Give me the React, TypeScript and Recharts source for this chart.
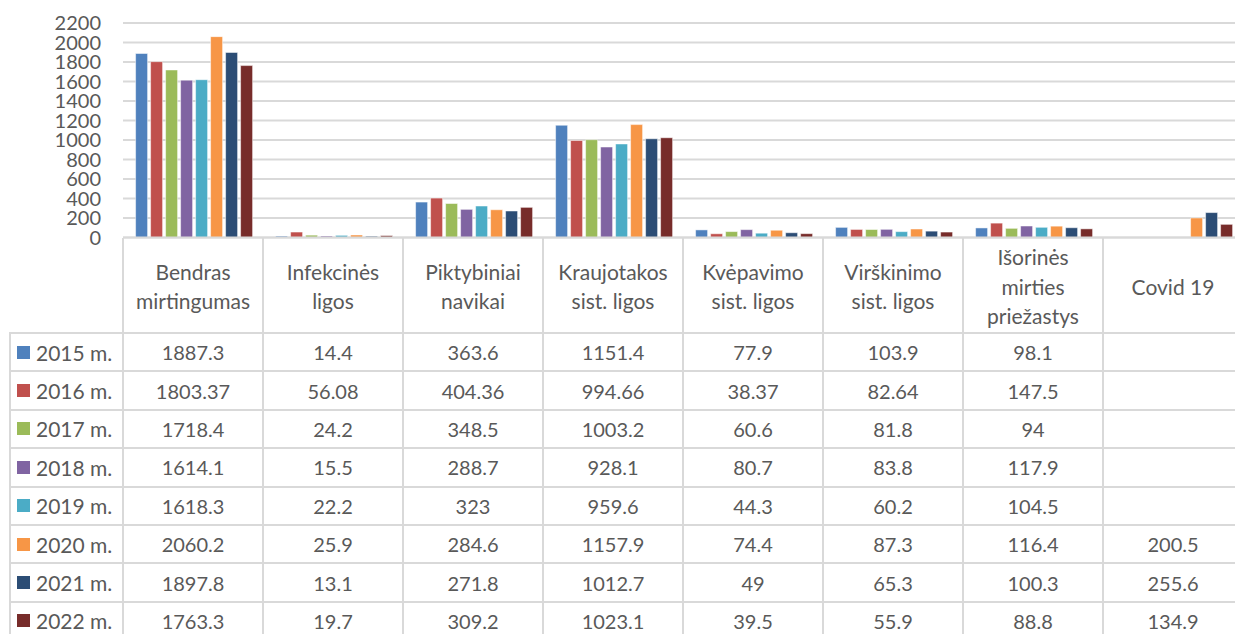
import { Bar, BarChart, CartesianGrid, XAxis, YAxis } from "recharts";

const categories = [
  "Bendras\nmirtingumas",
  "Infekcinės\nligos",
  "Piktybiniai\nnavikai",
  "Kraujotakos\nsist. ligos",
  "Kvėpavimo\nsist. ligos",
  "Virškinimo\nsist. ligos",
  "Išorinės\nmirties\npriežastys",
  "Covid 19",
];

const years = ["2015 m.", "2016 m.", "2017 m.", "2018 m.", "2019 m.", "2020 m.", "2021 m.", "2022 m."];
const colors = ["#4f81bd", "#c0504d", "#9bbb59", "#8064a2", "#4bacc6", "#f79646", "#2c4d75", "#772c2a"];

const v2015 = [1887.3, 14.4, 363.6, 1151.4, 77.9, 103.9, 98.1, null];
const v2016 = [1803.37, 56.08, 404.36, 994.66, 38.37, 82.64, 147.5, null];
const v2017 = [1718.4, 24.2, 348.5, 1003.2, 60.6, 81.8, 94, null];
const v2018 = [1614.1, 15.5, 288.7, 928.1, 80.7, 83.8, 117.9, null];
const v2019 = [1618.3, 22.2, 323, 959.6, 44.3, 60.2, 104.5, null];
const v2020 = [2060.2, 25.9, 284.6, 1157.9, 74.4, 87.3, 116.4, 200.5];
const v2021 = [1897.8, 13.1, 271.8, 1012.7, 49, 65.3, 100.3, 255.6];
const v2022 = [1763.3, 19.7, 309.2, 1023.1, 39.5, 55.9, 88.8, 134.9];

const series = [v2015, v2016, v2017, v2018, v2019, v2020, v2021, v2022];
const yTicks = [0, 200, 400, 600, 800, 1000, 1200, 1400, 1600, 1800, 2000, 2200];

const data = categories.map((name, i) => {
  const row: Record<string, string | number | null> = { name };
  series.forEach((s, k) => (row["s" + k] = s[i]));
  return row;
});

const TEXT = "#595959";
const LINE = "#d9d9d9";
const PLOT_LEFT = 123;
const COL_W = 140;
const HEAD_TOP = 238;
const TABLE_TOP = 333;
const ROW_H = 38.4;

// category names sit in the table's header row
function CategoryTick(props: any) {
  const { x, payload } = props;
  const lines = String(payload.value).split("\n");
  const lh = 29.5;
  const cy = (HEAD_TOP + TABLE_TOP) / 2;
  const first = cy - ((lines.length - 1) * lh) / 2;
  return (
    <text x={x} textAnchor="middle" fill={TEXT} fontSize={21} dominantBaseline="central">
      {lines.map((l, i) => (
        <tspan key={i} x={x} y={first + i * lh}>
          {l}
        </tspan>
      ))}
    </text>
  );
}

export default function App() {
  const right = PLOT_LEFT + COL_W * categories.length;
  return (
    <div
      style={{
        position: "absolute",
        left: 0,
        top: 0,
        width: 1235,
        height: 634,
        overflow: "hidden",
        background: "#fff",
        fontFamily: "Lato, sans-serif",
        color: TEXT,
      }}
    >
      <BarChart
        width={right + 7}
        height={TABLE_TOP}
        data={data}
        margin={{ top: 23, right: 7, left: 0, bottom: 0 }}
        barCategoryGap="9%"
        barGap={3}
      >
        <CartesianGrid vertical={false} stroke={LINE} strokeWidth={2} />
        <YAxis
          width={PLOT_LEFT}
          domain={[0, 2200]}
          ticks={yTicks}
          interval={0}
          axisLine={false}
          tickLine={false}
          tickMargin={16}
          tick={{ fill: TEXT, fontSize: 20 }}
        />
        <XAxis
          dataKey="name"
          height={TABLE_TOP - 237.5}
          axisLine={{ stroke: LINE, strokeWidth: 2 }}
          tickLine={false}
          interval={0}
          tick={<CategoryTick />}
        />
        {years.map((yr, k) => (
          <Bar
            key={yr}
            dataKey={"s" + k}
            name={yr}
            fill={colors[k]}
            stroke="#ffffff"
            strokeOpacity={0.5}
            strokeWidth={1}
            isAnimationActive={false}
          />
        ))}
      </BarChart>

      {/* table grid */}
      {categories.concat([""]).map((_, i) => (
        <div
          key={"v" + i}
          style={{
            position: "absolute",
            left: PLOT_LEFT + i * COL_W - 1,
            top: HEAD_TOP,
            width: 2,
            height: 634 - HEAD_TOP,
            background: LINE,
          }}
        />
      ))}
      <div
        style={{ position: "absolute", left: 9, top: TABLE_TOP, width: 2, height: 634 - TABLE_TOP, background: LINE }}
      />
      {years.concat([""]).map((_, r) => (
        <div
          key={"h" + r}
          style={{
            position: "absolute",
            left: 9,
            top: TABLE_TOP + r * ROW_H - 1,
            width: right - 9,
            height: 2,
            background: LINE,
          }}
        />
      ))}

      {/* table rows */}
      {years.map((yr, r) => (
        <div key={yr}>
          <div
            style={{
              position: "absolute",
              left: 17,
              top: TABLE_TOP + r * ROW_H,
              height: ROW_H,
              display: "flex",
              alignItems: "center",
              fontSize: 21,
              whiteSpace: "nowrap",
            }}
          >
            <span style={{ width: 13, height: 13, background: colors[r], marginRight: 6 }} />
            {yr}
          </div>
          {series[r].map((v, c) => (
            <div
              key={c}
              style={{
                position: "absolute",
                left: PLOT_LEFT + c * COL_W,
                top: TABLE_TOP + r * ROW_H,
                width: COL_W,
                height: ROW_H,
                display: "flex",
                alignItems: "center",
                justifyContent: "center",
                fontSize: 20,
              }}
            >
              {v == null ? "" : String(v)}
            </div>
          ))}
        </div>
      ))}
    </div>
  );
}
